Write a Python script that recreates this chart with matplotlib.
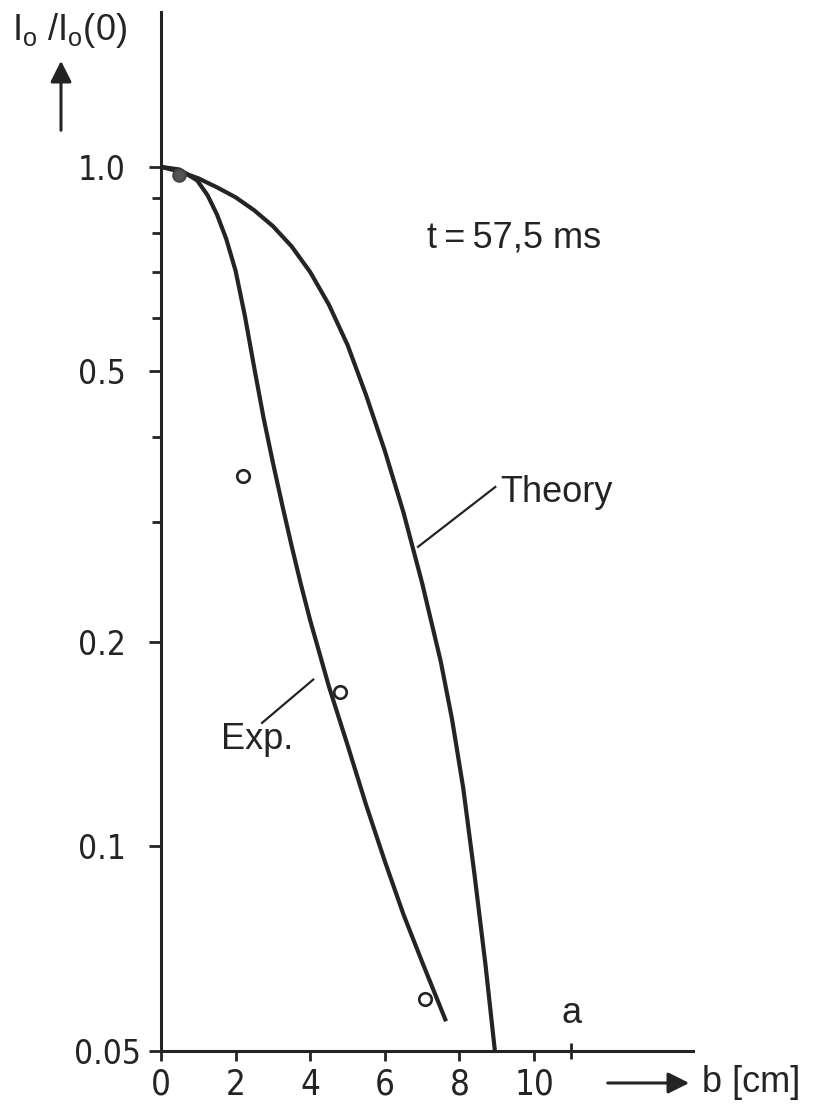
import numpy as np
import matplotlib.pyplot as plt
from matplotlib import font_manager
from matplotlib.patches import FancyArrowPatch
from matplotlib.transforms import ScaledTranslation

plt.rcParams['font.family'] = ['Liberation Sans', 'DejaVu Sans']
plt.rcParams['mathtext.fontset'] = 'custom'
plt.rcParams['mathtext.rm'] = 'Liberation Sans'

# narrow face for the digits if one is there
num_font = ['Liberation Sans', 'DejaVu Sans']
num_stretch = 'normal'
p = font_manager.findfont(font_manager.FontProperties(family='DejaVu Sans', stretch='condensed'))
if 'Condensed' in p:
    num_font = ['DejaVu Sans']
    num_stretch = 'condensed'

ink = '#242424'

# curves
theory_b = [0, 0.5, 1.0, 1.5, 2.0, 2.5, 3.0, 3.5, 4.0, 4.5, 5.0, 5.5, 6.0, 6.5, 7.0, 7.5, 7.8, 8.1, 8.4, 8.7, 8.95]
theory_i = [1.0, 0.984, 0.962, 0.933, 0.902, 0.863, 0.818, 0.764, 0.700, 0.627, 0.547, 0.461, 0.382,
            0.310, 0.244, 0.187, 0.154, 0.122, 0.0912, 0.0668, 0.050]

exp_b = [0, 0.5, 0.97, 1.25, 1.5, 1.75, 2.0, 2.25, 2.5, 2.75, 3.0, 3.25, 3.5, 3.75, 4.0, 4.5, 5.0,
         5.5, 6.0, 6.5, 7.0, 7.64]
exp_i = [1.0, 0.991, 0.955, 0.908, 0.851, 0.783, 0.703, 0.603, 0.506, 0.427, 0.367, 0.318, 0.277,
         0.243, 0.215, 0.172, 0.141, 0.115, 0.0951, 0.0794, 0.0676, 0.0553]

# measured points
pts_b = [0.48, 2.20, 4.80, 7.08]
pts_i = [0.973, 0.351, 0.169, 0.0597]

xticks = [0, 2, 4, 6, 8, 10]
yticks_major = [0.05, 0.1, 0.2, 0.5, 1.0]
ytick_labels = ['0.05', '0.1', '0.2', '0.5', '1.0']
yticks_minor = [0.3, 0.4, 0.6, 0.7, 0.8, 0.9]

fig = plt.figure(figsize=(8.31, 11.12), dpi=100)
ax = fig.add_axes([161/831, 61/1112, (693-161)/831, (1051-12)/1112])
ax.set_yscale('log')
ax.set_xlim(0, 14.26)
ax.set_ylim(0.05, 1.69)

ax.plot(theory_b, theory_i, color=ink, lw=3.0, solid_capstyle='butt', solid_joinstyle='round')
ax.plot(exp_b, exp_i, color=ink, lw=3.0, solid_capstyle='butt', solid_joinstyle='round')
ax.plot(pts_b[1:], pts_i[1:], 'o', ms=9, mfc='white', mec=ink, mew=1.9, zorder=5)
ax.plot(pts_b[:1], pts_i[:1], 'o', ms=9, mfc='#555555', mec='#444444', mew=1.5, zorder=5)

for s in ['top', 'right']:
    ax.spines[s].set_visible(False)
for s in ['left', 'bottom']:
    ax.spines[s].set_linewidth(2.2)
    ax.spines[s].set_color(ink)

ax.set_xticks(xticks)
ax.set_xticklabels([str(v) for v in xticks], family=num_font, stretch=num_stretch)
ax.set_yticks(yticks_major)
ax.set_yticklabels(ytick_labels, family=num_font, stretch=num_stretch)
ax.set_yticks(yticks_minor, minor=True)
ax.yaxis.set_minor_formatter(plt.NullFormatter())
ax.tick_params(axis='y', which='major', length=8.5, width=2.0, color=ink, labelsize=24, pad=17, labelcolor=ink)
ax.tick_params(axis='y', which='minor', length=6.5, width=2.0, color=ink)
ax.tick_params(axis='x', which='major', length=7, width=2.0, color=ink, labelsize=25, pad=5, labelcolor=ink)
ax.tick_params(axis='x', which='minor', length=0)

# the 0.05 label sits closer to the axis
lbl = ax.get_yticklabels()[0]
lbl.set_transform(lbl.get_transform() + ScaledTranslation(0.15, 0, fig.dpi_scale_trans))

# wall position "a"
ax.plot([11, 11], [0.0487, 0.0513], color=ink, lw=2.0, clip_on=False, solid_capstyle='butt')
ax.text(11, 0.0535, 'a', ha='center', va='bottom', fontsize=26, color=ink)

# annotations
ax.text(7.13, 0.76, 't\u2009=\u200957,5 ms', fontsize=26, color=ink, va='baseline')
ax.plot([6.89, 8.96], [0.276, 0.338], color=ink, lw=1.6)
ax.text(9.09, 0.321, 'Theory', fontsize=26, color=ink, va='baseline')
ax.plot([2.71, 4.08], [0.152, 0.176], color=ink, lw=1.6)
ax.text(1.6, 0.1438, 'Exp.', fontsize=26, color=ink, va='center')

# axis titles with arrows
fig.text(12/831, 1 - 30/1112, r'I$_{\mathrm{o}}$ /I$_{\mathrm{o}}$(0)', fontsize=26, color=ink, va='center', ha='left')
fig.patches.append(FancyArrowPatch((61/831, 1 - 133/1112), (61/831, 1 - 58/1112),
                   transform=fig.transFigure, arrowstyle='-|>', mutation_scale=32, lw=2.2, color=ink))
fig.patches.append(FancyArrowPatch((605/831, 1 - 1083/1112), (692/831, 1 - 1083/1112),
                   transform=fig.transFigure, arrowstyle='-|>', mutation_scale=32, lw=2.2, color=ink))
fig.text(702/831, 1 - 1083/1112, 'b [cm]', fontsize=26, color=ink, va='center', ha='left')

fig.savefig('out.png', dpi=100, facecolor='white')
